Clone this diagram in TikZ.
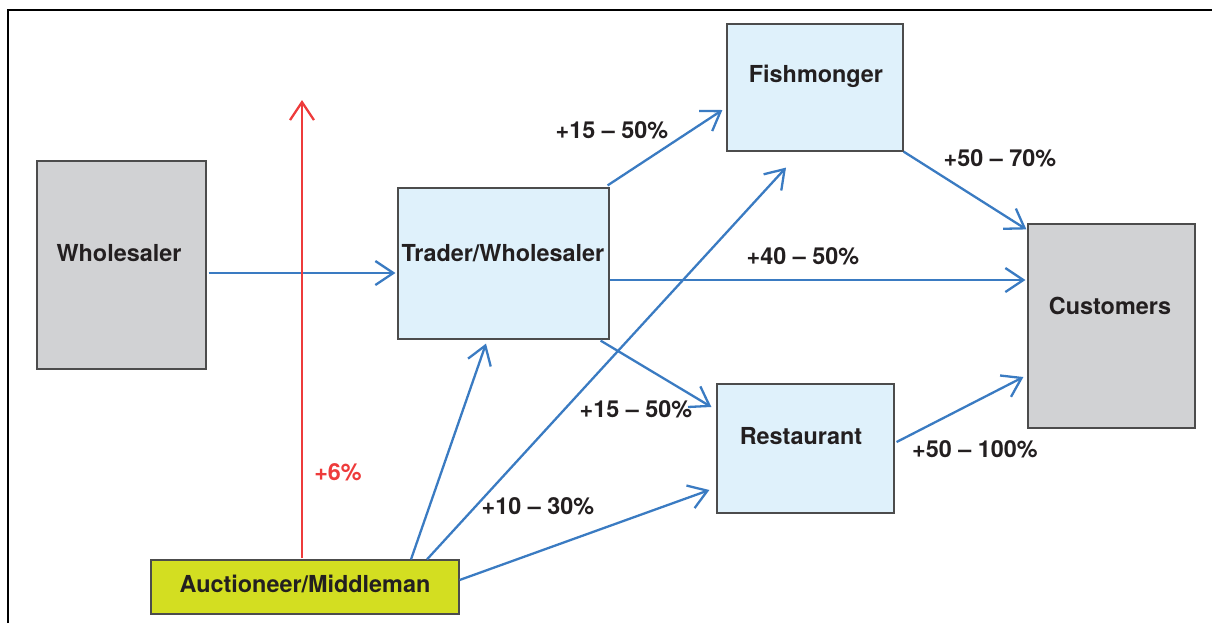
\documentclass[tikz,border=0pt]{standalone}
\usepackage{fontspec}
\setmainfont{TeX Gyre Heros}
\usetikzlibrary{arrows.meta,calc}

\definecolor{boxgray}{HTML}{D1D2D4}
\definecolor{boxblue}{HTML}{DFF1FB}
\definecolor{boxlime}{HTML}{D3DE21}
\definecolor{flowblue}{HTML}{3A7BC2}
\definecolor{markupred}{HTML}{EE3B3B}
\definecolor{textdark}{HTML}{231F20}

\begin{document}
\begin{tikzpicture}[
  x=0.5pt, y=-0.5pt,
  every node/.style={font=\fontsize{11.7}{13}\selectfont\bfseries, text=textdark, inner sep=0pt},
  graybox/.style={fill=boxgray, draw=black!70, line width=0.6pt},
  bluebox/.style={fill=boxblue, draw=black!70, line width=0.6pt},
  limebox/.style={fill=boxlime, draw=black!70, line width=0.6pt},
  flow/.style={draw=flowblue, line width=1.15pt, -{Straight Barb[length=9pt, width=12pt, line width=1.15pt]}},
  markup/.style={draw=markupred, line width=1.15pt, -{Straight Barb[length=9pt, width=12pt, line width=1.15pt]}}
]
\useasboundingbox (0,0) rectangle (1212,623);

% frame (top and left edges)
\draw[line width=0.9pt] (8,623) -- (8,10) -- (1212,10);

% boxes
\node[graybox, minimum width=84.5pt, minimum height=104pt] (wh) at (121.5,265) {};
\node[bluebox, minimum width=105.5pt, minimum height=75.5pt] (tr) at (503.5,263.5) {};
\node[bluebox, minimum width=88pt, minimum height=63.5pt] (fm) at (815,87.5) {};
\node[graybox, minimum width=83.5pt, minimum height=102pt] (cu) at (1111.5,326) {};
\node[bluebox, minimum width=88.5pt, minimum height=64.5pt] (re) at (805.5,448.5) {};
\node[limebox, minimum width=154pt, minimum height=27pt] (au) at (305,587) {};

% box titles
\node (whT) at (119,253) {Wholesaler};
\node (trT) at (503,253) {Trader/Wholesaler};
\node (fmT) at (816,76) {Fishmonger};
\node (cuT) at (1110,306) {Customers};
\node (reT) at (801,436) {Restaurant};
\node (auT) at (305,584) {Auctioneer/Middleman};

% flows
\draw[flow] ($(wh.east)+(2,8)$) -- ($(tr.west)+(-2,9.5)$);
\draw[flow] ($(tr.north east)+(-2,-2)$) -- ($(fm.west)+(-4,22.5)$);
\draw[flow] (fm.south east) -- ($(cu.north west)+(-1,6)$);
\draw[flow] ($(tr.east)+(0,16.5)$) -- ($(cu.west)+(-2,-46)$);
\draw[flow] ($(tr.south east)+(-9,1)$) -- ($(re.west)+(-5,-41.5)$);
\draw[flow] ($(re.east)+(2,-6.5)$) -- ($(cu.west)+(-4,51)$);
\draw[flow] ($(au.north)+(106,0)$) -- ($(tr.south)+(-17.5,4)$);
\draw[flow] ($(au.north)+(122,0)$) -- ($(fm.south)+(-29,16)$);
\draw[flow] ($(au.east)+(0,-7)$) -- ($(re.west)+(-7,41.5)$);

% auction markup
\coordinate (top) at (302,100);
\draw[markup] ($(au.north)+(-3,-1)$) -- (top);

% margins
\node (p1) at (612,130) {+15 – 50\%};
\node (p2) at (1000,158) {+50 – 70\%};
\node (p3) at (803,256) {+40 – 50\%};
\node (p4) at (636,409) {+15 – 50\%};
\node (p5) at (975,449) {+50 – 100\%};
\node (p6) at (538,506) {+10 – 30\%};
\node[text=markupred] (p7) at (338,472) {+6\%};
\end{tikzpicture}
\end{document}
